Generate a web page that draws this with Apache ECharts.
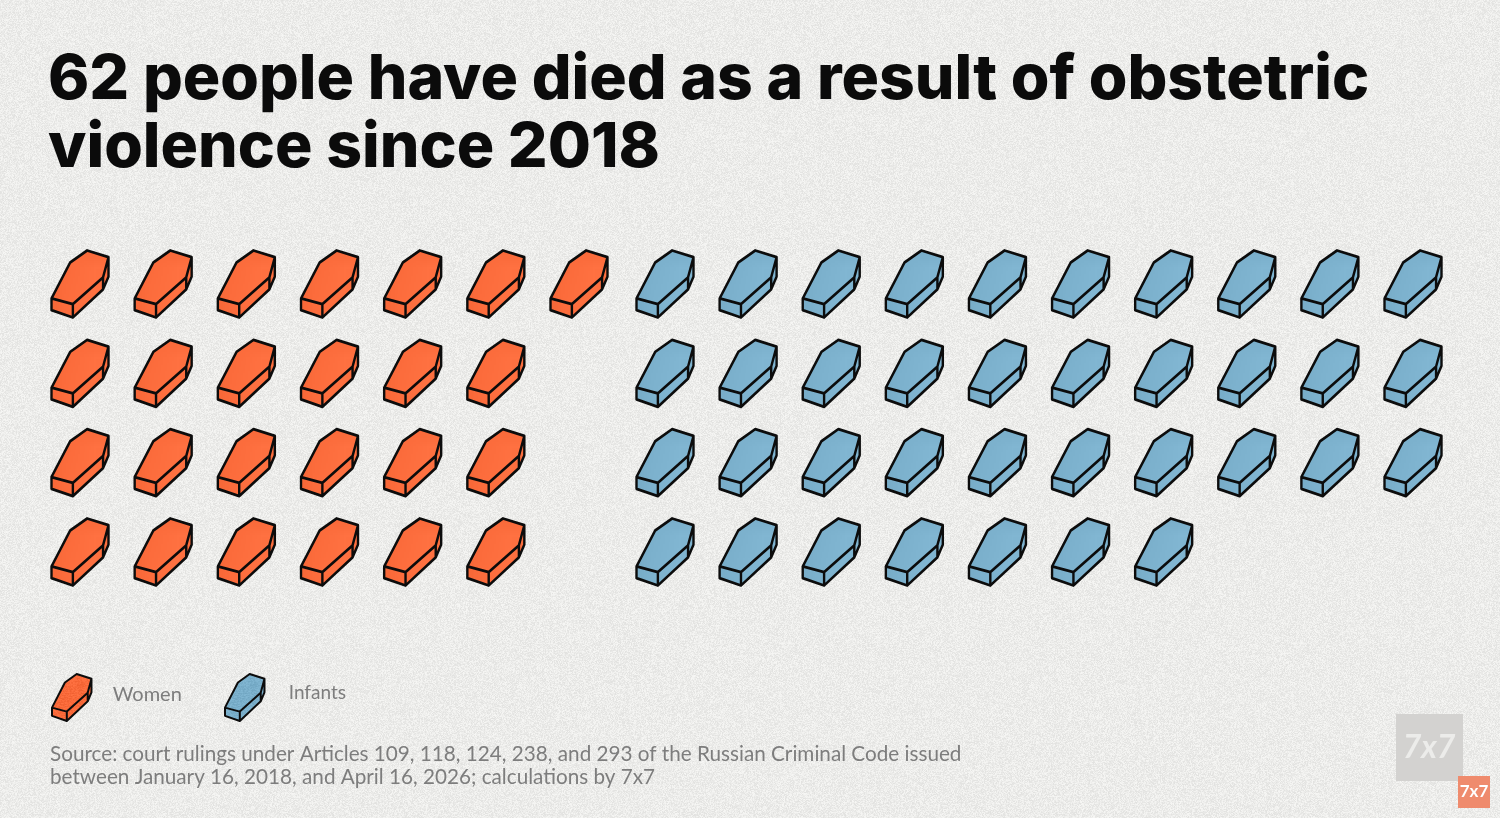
<!DOCTYPE html>
<html><head><meta charset="utf-8">
<style>html,body{margin:0;padding:0;background:#ececea}#c{width:1500px;height:818px}</style>
<script src="https://cdn.jsdelivr.net/npm/echarts@6/dist/echarts.min.js"></script>
</head><body><div id="c"></div>
<script>
const titleText = "62 people have died as a result of obstetric\nviolence since 2018";
const sourceText = "Source: court rulings under Articles 109, 118, 124, 238, and 293 of the Russian Criminal Code issued\nbetween January 16, 2018, and April 16, 2026; calculations by 7x7";
const seriesNames = ["Women", "Infants"];
const womenPerRow = [7, 6, 6, 6];
const infantsPerRow = [10, 10, 10, 7];
const coffin = "path://M35 175L90 68L140 32L203 52L203 110L187 148L98 232L35 210ZM35 175L98 192L98 232M203 52L187 112L98 192M187 112L187 148";

function cells(perRow){
  const out = [];
  perRow.forEach((n, r) => { for (let c = 0; c < n; c++) out.push([c, r]); });
  return out;
}
function grain(base, amp){
  const cv = document.createElement('canvas'); cv.width = cv.height = 512;
  const g = cv.getContext('2d'), im = g.createImageData(512, 512);
  let s = 12345;
  for (let i = 0; i < im.data.length; i += 4){
    s = (s + 0x6D2B79F5) | 0;
    let t = Math.imul(s ^ (s >>> 15), 1 | s);
    t = (t + Math.imul(t ^ (t >>> 7), 61 | t)) ^ t;
    const u = ((t ^ (t >>> 14)) >>> 0) % (2 * amp + 1);
    const d = u - amp;
    im.data[i] = base[0] + d; im.data[i+1] = base[1] + d; im.data[i+2] = base[2] + d; im.data[i+3] = 255;
  }
  g.putImageData(im, 0, 0);
  return cv;
}
const mk = (name, data, color, idx) => ({
  type: 'scatter', name, data, xAxisIndex: idx, yAxisIndex: idx, symbol: coffin, symbolSize: [57, 67], silent: true,
  itemStyle: { color: { image: grain(color, 10), repeat: 'repeat' }, borderColor: '#0c0c0c', borderWidth: 2.6, borderJoin: 'round', opacity: 1 }
});
const legendText = (size, bottom, left) => ({
  color: '#7d7d7d', fontFamily: 'Lato', fontSize: size,
  rich: { t: { fontFamily: 'Lato', fontSize: size, color: '#7d7d7d', padding: [0, 0, bottom, left] } }
});
const ch = echarts.init(document.getElementById('c'), null, { renderer: 'canvas' });
ch.setOption({
  animation: false,
  backgroundColor: { image: grain([236, 236, 234], 10), repeat: 'repeat' },
  title: [
    { text: titleText, left: 43, top: 41, textStyle: { fontFamily: 'Inter', fontWeight: 800, fontSize: 62.5, lineHeight: 68, color: '#0b0b0b' } },
    { text: sourceText, left: 45, top: 738, textStyle: { fontFamily: 'Lato', fontWeight: 400, fontSize: 20.7, lineHeight: 23, color: '#7d7d7d' } }
  ],
  grid: [
    { left: 80, top: 284, width: 499, height: 268 },
    { left: 665, top: 284, width: 748, height: 268 }
  ],
  xAxis: [
    { gridIndex: 0, type: 'value', min: 0, max: 6, show: false },
    { gridIndex: 1, type: 'value', min: 0, max: 9, show: false }
  ],
  yAxis: [
    { gridIndex: 0, type: 'value', min: 0, max: 3, inverse: true, show: false },
    { gridIndex: 1, type: 'value', min: 0, max: 3, inverse: true, show: false }
  ],
  legend: [
    { left: 46, top: 668, itemWidth: 40, itemHeight: 47, icon: coffin, data: [seriesNames[0]], selectedMode: false, formatter: '{t|{name}}', textStyle: legendText(20, 6, 16) },
    { left: 219, top: 668, itemWidth: 40, itemHeight: 47, icon: coffin, data: [seriesNames[1]], selectedMode: false, formatter: '{t|{name}}', textStyle: legendText(19, 10, 19) }
  ],
  series: [
    mk(seriesNames[0], cells(womenPerRow), [250, 106, 58], 0),
    mk(seriesNames[1], cells(infantsPerRow), [122, 175, 203], 1)
  ],
  graphic: [
    { type: 'rect', shape: { x: 1396, y: 714, width: 67, height: 67 }, style: { fill: '#d3d2d0' }, silent: true },
    { type: 'text', x: 1429, y: 748, style: { text: '7x7', fill: '#ececea', font: 'italic 700 32px Lato', align: 'center', verticalAlign: 'middle' }, silent: true },
    { type: 'rect', shape: { x: 1458, y: 776, width: 32, height: 32 }, style: { fill: '#ef8b6d' }, silent: true },
    { type: 'text', x: 1474, y: 792, style: { text: '7x7', fill: '#ffffff', font: '700 17px Lato', align: 'center', verticalAlign: 'middle' }, silent: true }
  ]
});
</script></body></html>
